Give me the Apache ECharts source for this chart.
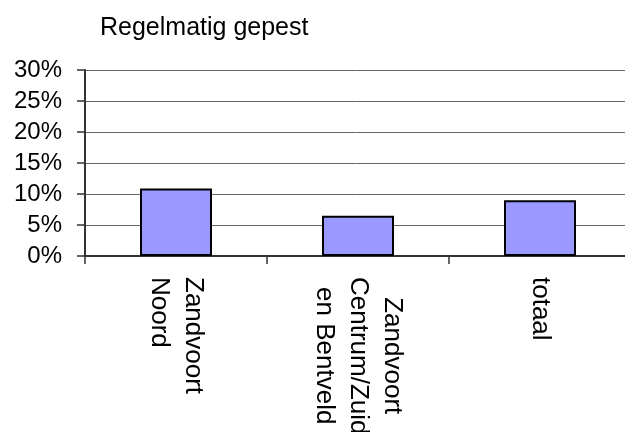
<!DOCTYPE html>
<html>
<head>
<meta charset="utf-8">
<script src="https://cdn.jsdelivr.net/npm/echarts@6/dist/echarts.min.js"></script>
<style>
  html, body { margin: 0; padding: 0; background: #fff; }
  #chart { width: 625px; height: 432px; }
</style>
</head>
<body>
<div id="chart"></div>
<script>
// Share of pupils regularly bullied, per district
const categories = ['Zandvoort\nNoord', 'Zandvoort\nCentrum/Zuid\nen Bentveld', 'totaal'];
const values = [10.9, 6.5, 9.0];
const yTicks = { min: 0, max: 30, step: 5 };
const titleText = 'Regelmatig gepest';

const FONT = '"Liberation Sans", Arial, sans-serif';
const axisColor = '#333';

const chart = echarts.init(document.getElementById('chart'), null, { renderer: 'canvas' });

chart.setOption({
  animation: false,
  backgroundColor: '#fff',
  title: {
    text: titleText,
    left: 100,
    top: 16,
    padding: 0,
    textStyle: { fontFamily: FONT, fontSize: 25, fontWeight: 'normal', color: '#000' }
  },
  // the plot runs a little past the right edge of the canvas
  grid: {
    left: 85, top: 70, width: 546, height: 186,
    containLabel: false,
    outerBoundsMode: 'none'
  },
  xAxis: {
    type: 'category',
    data: categories,
    axisLine: { lineStyle: { color: axisColor, width: 2 } },
    axisTick: { show: true, length: 8, lineStyle: { color: axisColor, width: 1.5 } },
    axisLabel: {
      interval: 0,
      rotate: -90,
      margin: 21,
      fontFamily: FONT,
      fontSize: 26,
      lineHeight: 34,
      color: '#000',
      formatter: function (v, i) {
        return i === 1 ? '{c|' + v + '}' : v;
      },
      rich: {
        c: { align: 'center', fontFamily: FONT, fontSize: 26, lineHeight: 34, color: '#000' }
      }
    }
  },
  yAxis: {
    type: 'value',
    min: yTicks.min,
    max: yTicks.max,
    interval: yTicks.step,
    axisLine: { show: true, lineStyle: { color: axisColor, width: 2 } },
    axisTick: { show: true, length: 8, lineStyle: { color: axisColor, width: 1.5 } },
    splitLine: { show: true, lineStyle: { color: '#666', width: 1 } },
    axisLabel: {
      margin: 23,
      fontFamily: FONT,
      fontSize: 24,
      color: '#000',
      formatter: '{value}%'
    }
  },
  series: [{
    type: 'bar',
    data: values,
    barWidth: 72,
    itemStyle: { color: '#9999FF', borderColor: '#000', borderWidth: 2 }
  }]
});
</script>
</body>
</html>
